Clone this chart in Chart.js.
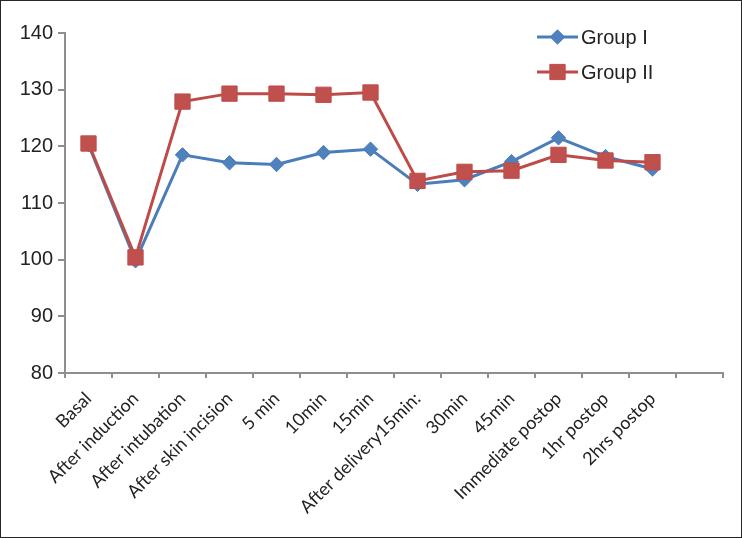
<!DOCTYPE html>
<html>
<head>
<meta charset="utf-8">
<script src="https://cdn.jsdelivr.net/npm/chart.js@4/dist/chart.umd.min.js"></script>
<style>
html,body{margin:0;padding:0;background:#fff;}
#wrap{width:742px;height:538px;position:relative;}
canvas{display:block;}
</style>
</head>
<body>
<div id="wrap"><canvas id="c" width="742" height="538" style="width:742px;height:538px"></canvas></div>
<script>
// ---- data ----
const categories = ['Basal', 'After induction', 'After intubation', 'After skin incision', '5 min', '10min', '15min',
  'After delivery15min:', '30min', '45min', 'Immediate postop', '1hr postop', '2hrs postop', ''];
const group1 = [120.3, 99.8, 118.5, 117.1, 116.8, 118.9, 119.5, 113.3, 114.1, 117.3, 121.5, 118.2, 116.0];
const group2 = [120.5, 100.4, 127.9, 129.3, 129.3, 129.1, 129.5, 113.9, 115.5, 115.7, 118.5, 117.5, 117.2];
const seriesNames = ['Group I', 'Group II'];
const yMin = 80, yMax = 140, yStep = 10;

const BLUE_LINE = '#4A7EBB', BLUE_FILL = '#4F81BD';
const RED_LINE = '#BE4B48', RED_FILL = '#C0504D';
const AXIS = '#8E8E8E';

const frame = {
  id: 'frame',
  beforeDraw(chart) {
    const ctx = chart.ctx;
    ctx.save();
    ctx.fillStyle = '#fff';
    ctx.fillRect(0, 0, chart.width, chart.height);
    ctx.restore();
  },
  afterDraw(chart) {
    const ctx = chart.ctx;
    ctx.save();
    ctx.strokeStyle = '#262626';
    ctx.lineWidth = 1;
    ctx.strokeRect(0.5, 0.5, chart.width - 1, chart.height - 1);
    ctx.restore();
  }
};

const insideLegend = {
  id: 'insideLegend',
  afterDatasetsDraw(chart) {
    const ctx = chart.ctx;
    const x0 = 537, x1 = 578, tx = 581;
    const ys = [37, 72];
    ctx.save();
    chart.data.datasets.forEach((ds, i) => {
      const y = ys[i];
      const cx = (x0 + x1) / 2;
      ctx.strokeStyle = ds.borderColor;
      ctx.lineWidth = ds.borderWidth;
      ctx.beginPath();
      ctx.moveTo(x0, y);
      ctx.lineTo(x1, y);
      ctx.stroke();
      ctx.fillStyle = ds.pointBackgroundColor;
      ctx.strokeStyle = ds.pointBorderColor;
      ctx.lineWidth = ds.pointBorderWidth;
      ctx.beginPath();
      if (ds.pointStyle === 'rectRot') {
        const r = ds.pointRadius;
        ctx.moveTo(cx, y - r); ctx.lineTo(cx + r, y); ctx.lineTo(cx, y + r); ctx.lineTo(cx - r, y); ctx.closePath();
      } else {
        const s = ds.pointRadius * Math.SQRT1_2;
        ctx.rect(cx - s, y - s, 2 * s, 2 * s);
      }
      ctx.fill();
      ctx.stroke();
      ctx.fillStyle = '#222';
      ctx.font = '20px "Liberation Sans", Arial, sans-serif';
      ctx.textAlign = 'left';
      ctx.textBaseline = 'middle';
      ctx.fillText(ds.label, tx, y + 1);
    });
    ctx.restore();
  }
};

new Chart(document.getElementById('c'), {
  type: 'line',
  data: {
    labels: categories,
    datasets: [
      {
        label: seriesNames[0], data: group1, order: 1,
        borderColor: BLUE_LINE, borderWidth: 3,
        pointStyle: 'rectRot', pointRadius: 7.2, pointBorderWidth: 1,
        pointBackgroundColor: BLUE_FILL, pointBorderColor: BLUE_LINE,
        tension: 0, fill: false
      },
      {
        label: seriesNames[1], data: group2, order: 0,
        borderColor: RED_LINE, borderWidth: 3,
        pointStyle: 'rect', pointRadius: 10.8, pointBorderWidth: 1,
        pointBackgroundColor: RED_FILL, pointBorderColor: RED_LINE,
        tension: 0, fill: false
      }
    ]
  },
  options: {
    responsive: false,
    animation: false,
    devicePixelRatio: 1,
    layout: { padding: { left: 0, right: 19, top: 33, bottom: 0 } },
    plugins: { legend: { display: false }, tooltip: { enabled: false } },
    scales: {
      x: {
        type: 'category',
        offset: true,
        grid: { offset: true, drawOnChartArea: false, drawTicks: true, tickLength: 5, color: AXIS, lineWidth: 2 },
        border: { display: true, color: AXIS, width: 2 },
        ticks: {
          autoSkip: false, maxRotation: 45, minRotation: 45, padding: 10,
          color: '#222', font: { family: 'Lato, "Liberation Sans", sans-serif', size: 18 }
        },
        afterFit(s) { s.height = 165; }
      },
      y: {
        min: yMin, max: yMax,
        grid: { drawOnChartArea: false, drawTicks: true, tickLength: 7, color: AXIS, lineWidth: 2 },
        border: { display: true, color: AXIS, width: 2 },
        ticks: {
          stepSize: yStep, padding: 5, color: '#222',
          font: { family: '"Liberation Sans", Arial, sans-serif', size: 20 }
        },
        afterFit(s) { s.width = 65; }
      }
    }
  },
  plugins: [frame, insideLegend]
});
</script>
</body>
</html>
